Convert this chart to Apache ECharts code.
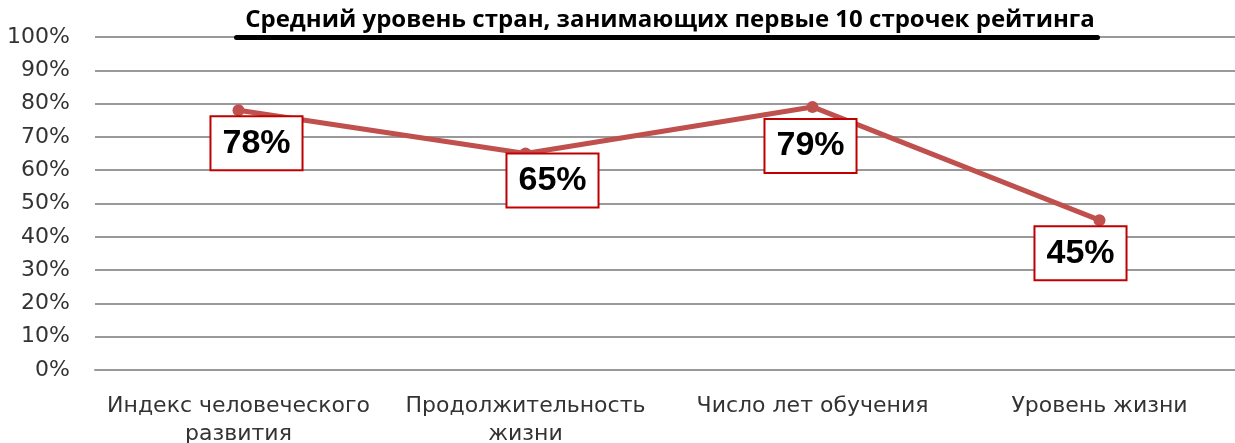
<!DOCTYPE html>
<html lang="ru">
<head>
<meta charset="UTF-8" />
<title>Средний уровень стран</title>
<script src="https://cdn.jsdelivr.net/npm/echarts@6/dist/echarts.min.js"></script>
<style>
  html, body { margin: 0; padding: 0; background: #fff; }
  #main { width: 1235px; height: 443px; }
</style>
</head>
<body>
<div id="main"></div>
<script>
// данные
var categories = ['Индекс человеческого\nразвития', 'Продолжительность\nжизни', 'Число лет обучения', 'Уровень жизни'];
var values = [78, 65, 79, 45];
// смещения подписей относительно точек
var labelOffsets = [[18, 33], [27, 27], [-2, 39], [-19, 33]];

var chart = echarts.init(document.getElementById('main'));

chart.setOption({
  animation: false,
  title: {
    text: 'Средний уровень стран, занимающих первые 10 строчек рейтинга',
    left: 665,
    textAlign: 'center',
    top: 3,
    textStyle: { fontFamily: 'Open Sans', fontWeight: 'bold', fontSize: 24, color: '#000' }
  },
  graphic: [{
    type: 'rect',
    shape: { x: 234, y: 35, width: 866, height: 5, r: 2.5 },
    style: { fill: '#000' },
    z: 10
  }],
  grid: { left: 95, right: -8, top: 37, bottom: 73, outerBoundsMode: 'none', containLabel: false },
  xAxis: {
    type: 'category',
    data: categories,
    axisTick: { show: false },
    axisLine: { lineStyle: { color: '#999', width: 2 } },
    axisLabel: {
      color: '#333', fontFamily: 'DejaVu Sans', fontSize: 22, lineHeight: 28, margin: 22, interval: 0
    }
  },
  yAxis: {
    type: 'value',
    min: 0, max: 100, interval: 10,
    axisLine: { show: false },
    axisTick: { show: false },
    axisLabel: {
      formatter: '{value}%', color: '#333', fontFamily: 'DejaVu Sans', fontSize: 22, margin: 25
    },
    splitLine: { lineStyle: { color: '#999', width: 2 } }
  },
  series: [{
    type: 'line',
    data: values.map(function (v, i) {
      return { value: v, label: { offset: labelOffsets[i] } };
    }),
    symbol: 'circle',
    symbolSize: 12,
    lineStyle: { color: '#c0504d', width: 5 },
    itemStyle: { color: '#c0504d' },
    label: {
      show: true,
      position: 'inside',
      formatter: '{c}%',
      fontFamily: 'Liberation Sans',
      fontWeight: 'bold',
      fontSize: 34,
      color: '#000',
      backgroundColor: '#fff',
      borderColor: '#c00000',
      borderWidth: 2,
      padding: [10, 11, 8, 11]
    }
  }]
});
</script>
</body>
</html>
